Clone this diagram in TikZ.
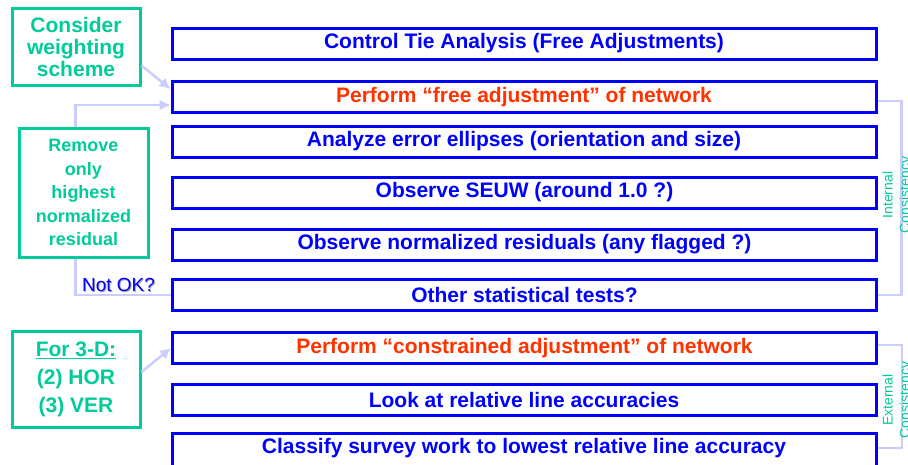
\documentclass[tikz,border=0pt]{standalone}
\usepackage{fontspec}
\setmainfont{Liberation Sans}
\usepackage{tikz}
\usetikzlibrary{arrows.meta, positioning}
\definecolor{stepblue}{HTML}{0000FF}
\definecolor{stepred}{HTML}{FF3300}
\definecolor{notegreen}{HTML}{00CC99}
\definecolor{linklav}{HTML}{CCCCFF}

\tikzset{
  stepbox/.style={draw=stepblue, line width=3pt, minimum width=704pt, minimum height=31pt,
    inner sep=0pt, text=stepblue, font=\fontsize{21}{24}\selectfont\bfseries},
  notebox/.style={draw=notegreen, line width=3pt, inner sep=0pt, align=center,
    text=notegreen},
  link/.style={linklav, line width=2.5pt},
  linkarrow/.style={link, -{Latex[length=11pt,width=11pt]}},
  sidetext/.style={rotate=90, align=center, text=notegreen,
    font=\fontsize{14}{17}\selectfont}
}

\begin{document}
\begin{tikzpicture}[x=1pt, y=-1pt]
  \clip (0,0) rectangle (908,464);
  \fill[white] (0,0) rectangle (908,464);

  % steps
  \node[stepbox] (b1) at (524,43.5) {Control Tie Analysis (Free Adjustments)};
  \node[stepbox, text=stepred] (b2) at (524,97) {Perform ``free adjustment'' of network};
  \node[stepbox] (b3) at (524,141.5) {Analyze error ellipses (orientation and size)};
  \node[stepbox] (b4) at (524.5,192.5) {Observe SEUW (around 1.0 ?)};
  \node[stepbox] (b5) at (524.5,244.5) {Observe normalized residuals (any flagged ?)};
  \node[stepbox] (b6) at (524.5,295) {Other statistical tests?};
  \node[stepbox, text=stepred] (b7) at (524.5,348) {Perform ``constrained adjustment'' of network};
  \node[stepbox] (b8) at (524,399.5) {Look at relative line accuracies};
  \node[stepbox, minimum height=40pt] (b9) at (524,453) {};
  \node[text=stepblue, font=\fontsize{21}{24}\selectfont\bfseries] (b9text) at (524,448.5)
    {Classify survey work to lowest relative line accuracy};

  % notes on the left
  \node[notebox, minimum width=128pt, minimum height=77pt,
    font=\fontsize{21}{22}\selectfont\bfseries] (cw) at (76,46.5)
    {Consider\\weighting\\scheme};
  \node[notebox, minimum width=129pt, minimum height=129pt,
    font=\fontsize{18}{23.5}\selectfont\bfseries] (rm) at (83.5,192.5)
    {Remove\\only\\highest\\normalized\\residual};
  \node[notebox, minimum width=128pt, minimum height=96pt,
    font=\fontsize{21}{28}\selectfont\bfseries] (fd) at (76,379)
    {\underline{For 3-D:}\\(2) HOR\\(3) VER};

  % loop back
  \draw[link] ([xshift=-8pt]rm.south) |- (b6.west);
  \draw[linkarrow] ([xshift=-8pt]rm.north) |- ([yshift=-8pt]b2.west);
  \draw[linkarrow] ([yshift=-19pt]cw.east) -- ([yshift=8pt]b2.west);
  \draw[linkarrow] ([yshift=7pt]fd.east) -- (b7.west);
  \node[text=gray!70, font=\fontsize{19}{22}\selectfont] (notokshade) at (119.5,286) {Not OK?};
  \node[text=stepblue, font=\fontsize{19}{22}\selectfont] (notok) at (118.5,285) {Not OK?};

  % brackets on the right
  \draw[link] ([yshift=-4pt]b2.east) -- ++(24,0) coordinate (ic) |- (b6.east);
  \draw[link] ([yshift=3pt]b7.east) -- ++(24,0) coordinate (ec) |- ([yshift=5pt]b9.east);
  \node[sidetext] (intc) at (897.5,195) {Internal\\Consistency};
  \node[sidetext] (extc) at (897.5,400) {External\\Consistency};
\end{tikzpicture}
\end{document}
